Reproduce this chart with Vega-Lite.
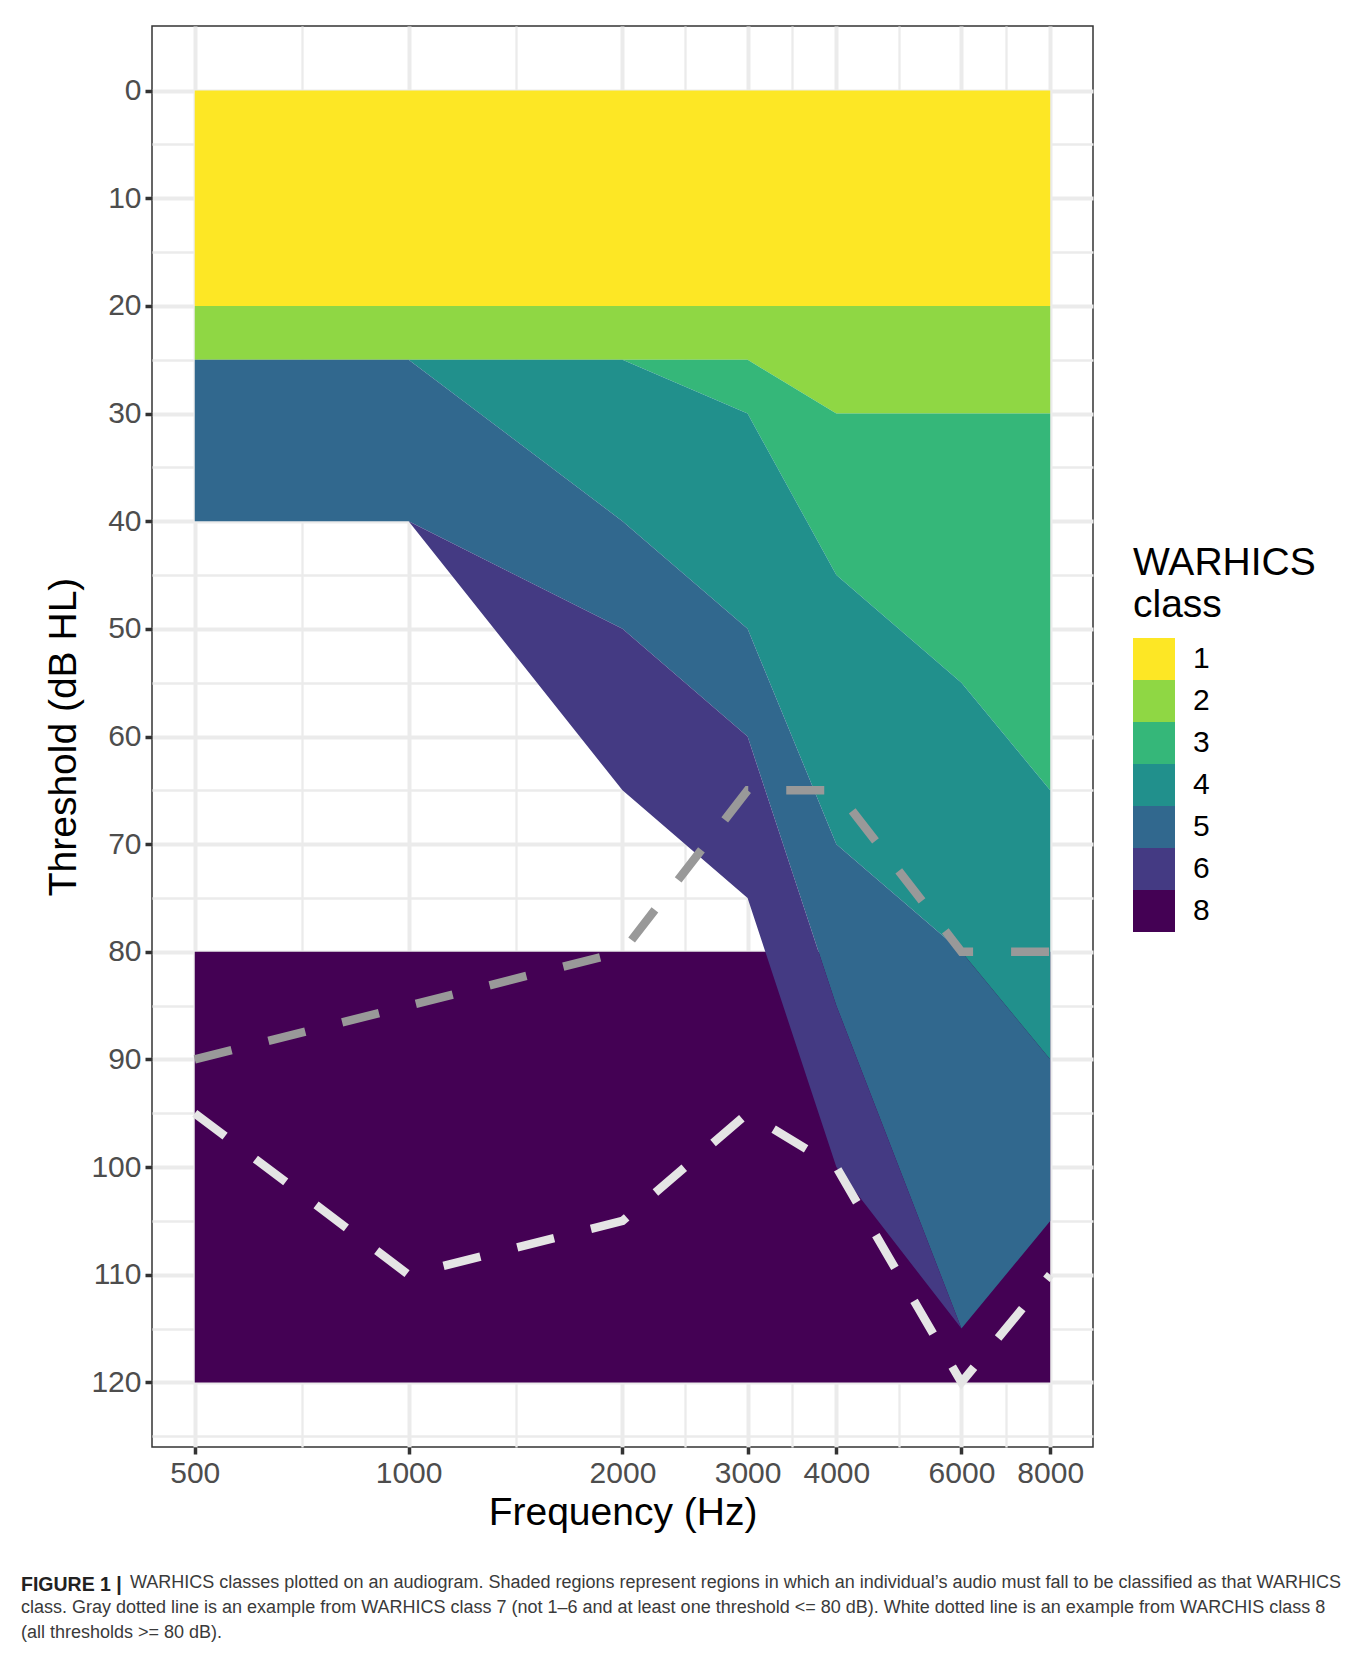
{
  "$schema": "https://vega.github.io/schema/vega-lite/v6.json",
  "width": 941,
  "height": 1421,
  "autosize": {"type": "none"},
  "padding": {"left": 152, "top": 26, "right": 270, "bottom": 208},
  "background": "white",
  "title": {
    "text": "FIGURE 1 |",
    "subtitle": [
      "\u2800\u2800\u2800\u2800\u2800\u2800\u2800\u2800 WARHICS classes plotted on an audiogram. Shaded regions represent regions in which an individual’s audio must fall to be classified as that WARHICS",
      "class. Gray dotted line is an example from WARHICS class 7 (not 1–6 and at least one threshold <= 80 dB). White dotted line is an example from WARCHIS class 8",
      "(all thresholds >= 80 dB)."
    ],
    "orient": "bottom",
    "anchor": "start",
    "frame": "group",
    "dx": -131,
    "offset": 44,
    "limit": 1400,
    "font": "Liberation Sans",
    "fontSize": 19.5,
    "fontWeight": "bold",
    "color": "#222222",
    "subtitleFont": "Liberation Sans",
    "subtitleFontSize": 18,
    "subtitleColor": "#3a3a3a",
    "subtitleLineHeight": 25,
    "subtitlePadding": -21.5
  },
  "config": {
    "font": "Liberation Sans",
    "view": {"stroke": "#333333", "strokeWidth": 1.5},
    "axis": {
      "domain": false,
      "grid": true,
      "gridColor": "#EBEBEB",
      "tickColor": "#333333",
      "tickWidth": 3.5,
      "tickSize": 7,
      "labelFont": "Liberation Sans",
      "labelFontSize": 30,
      "labelColor": "#4D4D4D",
      "titleFont": "Liberation Sans",
      "titleFontSize": 39,
      "titleFontWeight": "normal",
      "titleColor": "#000000"
    },
    "legend": {
      "orient": "none",
      "legendX": 981,
      "legendY": 518,
      "padding": 0,
      "titleFont": "Liberation Sans",
      "titleFontSize": 39,
      "titleFontWeight": "normal",
      "titleColor": "#000000",
      "titleLineHeight": 42,
      "titlePadding": 13,
      "titleLimit": 400,
      "labelFont": "Liberation Sans",
      "labelFontSize": 30,
      "labelColor": "#000000",
      "labelOffset": 18,
      "labelLimit": 200,
      "symbolType": "square",
      "symbolSize": 1764,
      "symbolStrokeWidth": 0,
      "symbolOpacity": 1,
      "rowPadding": 0
    }
  },
  "datasets": {
    "regions": [
      {"cls": "8", "freq": 500, "upper": 80, "lower": 120},
      {"cls": "8", "freq": 8000, "upper": 80, "lower": 120},
      {"cls": "1", "freq": 500, "upper": 0, "lower": 20},
      {"cls": "1", "freq": 8000, "upper": 0, "lower": 20},
      {"cls": "2", "freq": 500, "upper": 20, "lower": 25},
      {"cls": "2", "freq": 1000, "upper": 20, "lower": 25},
      {"cls": "2", "freq": 2000, "upper": 20, "lower": 25},
      {"cls": "2", "freq": 3000, "upper": 20, "lower": 25},
      {"cls": "2", "freq": 4000, "upper": 20, "lower": 30},
      {"cls": "2", "freq": 6000, "upper": 20, "lower": 30},
      {"cls": "2", "freq": 8000, "upper": 20, "lower": 30},
      {"cls": "3", "freq": 2000, "upper": 25, "lower": 25},
      {"cls": "3", "freq": 3000, "upper": 25, "lower": 30},
      {"cls": "3", "freq": 4000, "upper": 30, "lower": 45},
      {"cls": "3", "freq": 6000, "upper": 30, "lower": 55},
      {"cls": "3", "freq": 8000, "upper": 30, "lower": 65},
      {"cls": "4", "freq": 1000, "upper": 25, "lower": 25},
      {"cls": "4", "freq": 2000, "upper": 25, "lower": 40},
      {"cls": "4", "freq": 3000, "upper": 30, "lower": 50},
      {"cls": "4", "freq": 4000, "upper": 45, "lower": 70},
      {"cls": "4", "freq": 6000, "upper": 55, "lower": 80},
      {"cls": "4", "freq": 8000, "upper": 65, "lower": 90},
      {"cls": "5", "freq": 500, "upper": 25, "lower": 40},
      {"cls": "5", "freq": 1000, "upper": 25, "lower": 40},
      {"cls": "5", "freq": 2000, "upper": 40, "lower": 50},
      {"cls": "5", "freq": 3000, "upper": 50, "lower": 60},
      {"cls": "5", "freq": 4000, "upper": 70, "lower": 85},
      {"cls": "5", "freq": 6000, "upper": 80, "lower": 115},
      {"cls": "5", "freq": 8000, "upper": 90, "lower": 105},
      {"cls": "6", "freq": 1000, "upper": 40, "lower": 40},
      {"cls": "6", "freq": 2000, "upper": 50, "lower": 65},
      {"cls": "6", "freq": 3000, "upper": 60, "lower": 75},
      {"cls": "6", "freq": 4000, "upper": 85, "lower": 100},
      {"cls": "6", "freq": 6000, "upper": 115, "lower": 115}
    ],
    "examples": [
      {"example": "class 7", "freq": 500, "threshold": 90},
      {"example": "class 7", "freq": 1000, "threshold": 85},
      {"example": "class 7", "freq": 2000, "threshold": 80},
      {"example": "class 7", "freq": 3000, "threshold": 65},
      {"example": "class 7", "freq": 4000, "threshold": 65},
      {"example": "class 7", "freq": 6000, "threshold": 80},
      {"example": "class 7", "freq": 8000, "threshold": 80},
      {"example": "class 8", "freq": 500, "threshold": 95},
      {"example": "class 8", "freq": 1000, "threshold": 110},
      {"example": "class 8", "freq": 2000, "threshold": 105},
      {"example": "class 8", "freq": 3000, "threshold": 95},
      {"example": "class 8", "freq": 4000, "threshold": 100},
      {"example": "class 8", "freq": 6000, "threshold": 120},
      {"example": "class 8", "freq": 8000, "threshold": 110}
    ]
  },
  "layer": [
    {
      "data": {"name": "regions"},
      "transform": [{"filter": "datum.cls == '8'"}],
      "mark": {"type": "area", "opacity": 1},
      "encoding": {
        "x": {
          "field": "freq", "type": "quantitative", "title": "Frequency (Hz)",
          "scale": {"type": "log", "domain": [435.3, 9190], "nice": false},
          "axis": {
            "values": [500, 707.1, 1000, 1414.2, 2000, 2449.5, 3000, 3464.1, 4000, 4899, 6000, 6928.2, 8000],
            "format": "d",
            "labelExpr": "indexof([500,1000,2000,3000,4000,6000,8000], datum.value) >= 0 ? datum.label : ''",
            "gridWidth": {"condition": {"test": "indexof([500,1000,2000,3000,4000,6000,8000], datum.value) >= 0", "value": 4}, "value": 2.3},
            "tickOpacity": {"condition": {"test": "indexof([500,1000,2000,3000,4000,6000,8000], datum.value) >= 0", "value": 1}, "value": 0},
            "labelOverlap": false,
            "labelFlush": false,
            "labelBound": false,
            "labelPadding": 4,
            "titlePadding": 5
          }
        },
        "y": {
          "field": "upper", "type": "quantitative", "title": "Threshold (dB HL)",
          "stack": null,
          "scale": {"domain": [-6, 126], "reverse": true, "nice": false, "zero": false},
          "axis": {
            "values": [0, 5, 10, 15, 20, 25, 30, 35, 40, 45, 50, 55, 60, 65, 70, 75, 80, 85, 90, 95, 100, 105, 110, 115, 120, 125],
            "labelExpr": "datum.value % 10 == 0 ? datum.label : ''",
            "gridWidth": {"condition": {"test": "datum.value % 10 == 0", "value": 4}, "value": 2.3},
            "tickOpacity": {"condition": {"test": "datum.value % 10 == 0", "value": 1}, "value": 0},
            "labelOverlap": false,
            "labelPadding": 4,
            "titlePadding": 7
          }
        },
        "y2": {"field": "lower"},
        "color": {
          "field": "cls", "type": "nominal",
          "scale": {"domain": ["1", "2", "3", "4", "5", "6", "8"], "range": ["#FDE725", "#8FD744", "#35B779", "#21908C", "#31688E", "#443A83", "#440154"]},
          "legend": {"title": ["WARHICS", "class"]}
        }
      }
    },
    {
      "data": {"name": "regions"},
      "transform": [{"filter": "datum.cls != '8'"}],
      "mark": {"type": "area", "opacity": 1},
      "encoding": {
        "x": {"field": "freq", "type": "quantitative", "title": "Frequency (Hz)"},
        "y": {"field": "upper", "type": "quantitative", "title": "Threshold (dB HL)", "stack": null},
        "y2": {"field": "lower"},
        "color": {"field": "cls", "type": "nominal", "legend": {"title": ["WARHICS", "class"]}}
      }
    },
    {
      "data": {"name": "examples"},
      "transform": [{"filter": "datum.example == 'class 7'"}],
      "mark": {"type": "line", "color": "#999999", "strokeWidth": 8.5, "strokeDash": [38, 38], "strokeCap": "butt"},
      "encoding": {
        "x": {"field": "freq", "type": "quantitative", "title": "Frequency (Hz)"},
        "y": {"field": "threshold", "type": "quantitative", "title": "Threshold (dB HL)"}
      }
    },
    {
      "data": {"name": "examples"},
      "transform": [{"filter": "datum.example == 'class 8'"}],
      "mark": {"type": "line", "color": "#E5E5E5", "strokeWidth": 8.5, "strokeDash": [38, 38], "strokeCap": "butt"},
      "encoding": {
        "x": {"field": "freq", "type": "quantitative", "title": "Frequency (Hz)"},
        "y": {"field": "threshold", "type": "quantitative", "title": "Threshold (dB HL)"}
      }
    }
  ]
}
